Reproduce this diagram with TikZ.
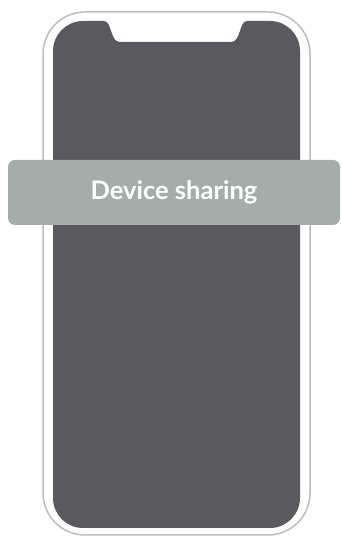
\documentclass[tikz,border=0pt]{standalone}
\usepackage{fontspec}
\setmainfont{Lato}
\definecolor{screengray}{HTML}{5B595F}
\definecolor{bannergreen}{HTML}{A3ADAA}
\definecolor{framegray}{HTML}{BDBDBD}
\begin{document}
\begin{tikzpicture}[x=1pt,y=1pt]
    \useasboundingbox (0,0) rectangle (341,537);
    % phone body
    \draw[framegray,line width=1.5pt,rounded corners=42pt] (43,2) rectangle (310,525);
    % screen with notch
    \fill[screengray] (53,39)
        -- (53,486) arc[start angle=180,end angle=90,radius=30]
        -- (104,516) .. controls (112,516) and (110,495) .. (120,495)
        -- (231,495) .. controls (241,495) and (239,516) .. (247,516)
        -- (270,516) arc[start angle=90,end angle=0,radius=30]
        -- (300,39) arc[start angle=0,end angle=-90,radius=30]
        -- (83,9) arc[start angle=270,end angle=180,radius=30]
        -- cycle;
    \node (banner) [fill=bannergreen,rounded corners=7pt,minimum width=332pt,
        minimum height=65pt,inner sep=0pt,text=white,font=\bfseries\fontsize{25.5}{28}\selectfont]
        at (174,344.5) {Device sharing};
\end{tikzpicture}
\end{document}
